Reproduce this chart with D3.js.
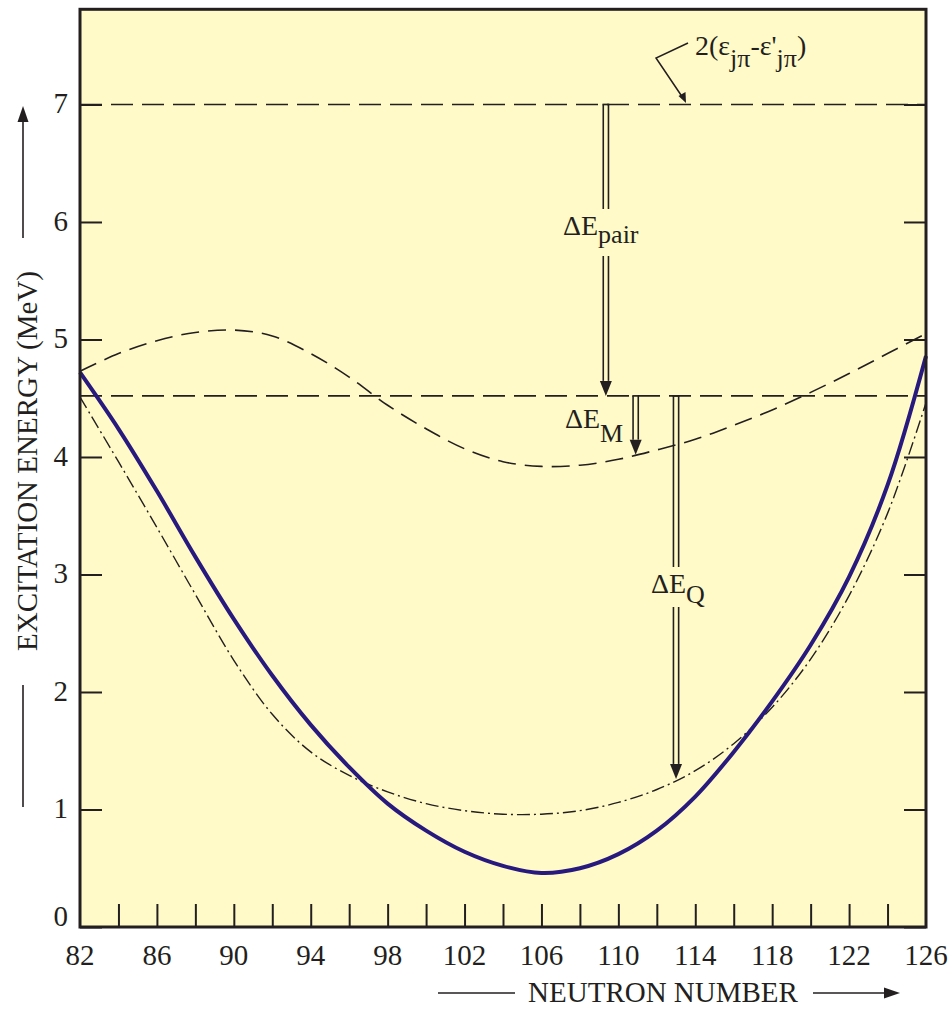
<!DOCTYPE html>
<html><head><meta charset="utf-8">
<script src="https://cdn.jsdelivr.net/npm/d3@7"></script>
<style>
body{margin:0;background:#fff}
svg{display:block}
</style>
</head><body>
<svg id="chart" width="952" height="1009"></svg>
<script>
// ---- data ----
const neutronN   = [82,84,86,88,90,92,94,96,98,100,102,104,106,108,110,112,114,116,118,120,122,124,126];
const solidE     = [4.72,4.24,3.71,3.15,2.62,2.14,1.72,1.36,1.05,0.82,0.64,0.52,0.46,0.50,0.62,0.82,1.11,1.49,1.92,2.40,2.98,3.76,4.86];
const dashDotE   = [4.51,3.96,3.40,2.83,2.27,1.81,1.49,1.29,1.15,1.05,0.99,0.96,0.96,0.99,1.06,1.17,1.33,1.56,1.87,2.28,2.82,3.52,4.46];
const dashedE    = [4.73,4.88,4.99,5.06,5.08,5.03,4.88,4.68,4.44,4.24,4.07,3.96,3.92,3.93,3.98,4.06,4.15,4.27,4.40,4.55,4.71,4.88,5.05];
const levelPair  = 7.0;    // 2(eps - eps')
const levelGap   = 4.52;
const xTickVals  = [84,86,88,90,92,94,96,98,100,102,104,106,108,110,112,114,116,118,120,122,124];
const xLabelVals = [82,86,90,94,98,102,106,110,114,118,122,126];
const yTickVals  = [0,1,2,3,4,5,6,7];
// arrows: [N position, top energy, tip energy]
const arrowPairN = [109.35, 7.0, 4.52];
const arrowMN    = [110.9, 4.52, 4.02];
const arrowQN    = [113.0, 4.52, 1.26];

// ---- scales ----
const FONT = "'Liberation Serif', 'Times New Roman', Times, 'DejaVu Serif', serif";
const svg = d3.select("#chart").attr("font-family", FONT).style("font-family", FONT);
const x = d3.scaleLinear().domain([82,126]).range([80,926]);
const y = d3.scaleLinear().domain([0,7.81]).range([927,9.3]);
const ink = "#231f20";

// background
svg.append("rect").attr("x",80).attr("y",9.3).attr("width",846).attr("height",917.7)
  .attr("fill","#fffac8");

// axes (inward ticks)
const gB = svg.append("g").attr("transform","translate(0,927)")
  .call(d3.axisBottom(x).tickValues(xTickVals).tickSizeInner(-23).tickSizeOuter(0).tickFormat(""));
const gL = svg.append("g").attr("transform","translate(80,0)")
  .call(d3.axisLeft(y).tickValues(yTickVals).tickSizeInner(-22).tickSizeOuter(0).tickFormat(""));
const gR = svg.append("g").attr("transform","translate(926,0)")
  .call(d3.axisRight(y).tickValues(yTickVals).tickSizeInner(-22).tickSizeOuter(0).tickFormat(""));
[gB,gL,gR].forEach(g=>{
  g.select(".domain").remove();
  g.selectAll("line").attr("stroke",ink).attr("stroke-width",2);
  g.selectAll("text").remove();
});

function txt(sel){ return sel.append("text").attr("font-family",FONT).attr("fill",ink); }

// tick labels
const gxl = svg.append("g");
xLabelVals.forEach(d=>{
  txt(gxl).attr("x",x(d)).attr("y",965).attr("text-anchor","middle").attr("font-size",29).text(d);
});
const gyl = svg.append("g");
yTickVals.forEach(d=>{
  txt(gyl).attr("x",68).attr("y",y(d)+(d===0?-1:9)).attr("text-anchor","end").attr("font-size",29).text(d);
});

// horizontal dashed levels
svg.append("line").attr("x1",x(82)).attr("x2",x(126)).attr("y1",y(levelPair)).attr("y2",y(levelPair))
  .attr("stroke",ink).attr("stroke-width",1.7).attr("stroke-dasharray","22,9");
svg.append("line").attr("x1",x(82)).attr("x2",x(126)).attr("y1",y(levelGap)).attr("y2",y(levelGap))
  .attr("stroke",ink).attr("stroke-width",1.7).attr("stroke-dasharray","22,9");

// curves
const line = d3.line().x(d=>x(d[0])).y(d=>y(d[1])).curve(d3.curveCatmullRom.alpha(0.5));
svg.append("path").datum(neutronN.map((n,i)=>[n,dashedE[i]])).attr("d",line)
  .attr("fill","none").attr("stroke",ink).attr("stroke-width",1.6).attr("stroke-dasharray","18,9");
svg.append("path").datum(neutronN.map((n,i)=>[n,dashDotE[i]])).attr("d",line)
  .attr("fill","none").attr("stroke",ink).attr("stroke-width",1.4).attr("stroke-dasharray","13,4,2,4");
svg.append("path").datum(neutronN.map((n,i)=>[n,solidE[i]])).attr("d",line)
  .attr("fill","none").attr("stroke","#27197d").attr("stroke-width",4);

// double arrows
function doubleArrow(spec, gapTop, gapBot){
  const cx = x(spec[0]), y0 = y(spec[1]), y1 = y(spec[2]);
  const headH = 16, headW = 12, base = y1 - headH + 1;
  const segs = gapTop==null ? [[y0,base]] : [[y0,gapTop],[gapBot,base]];
  const g = svg.append("g");
  segs.forEach(s=>{
    [-2.6,2.6].forEach(o=>{
      g.append("line").attr("x1",cx+o).attr("x2",cx+o).attr("y1",s[0]).attr("y2",s[1])
        .attr("stroke",ink).attr("stroke-width",1.6);
    });
  });
  g.append("line").attr("x1",cx-3.4).attr("x2",cx+3.4).attr("y1",y0).attr("y2",y0)
    .attr("stroke",ink).attr("stroke-width",1.7);
  g.append("path").attr("d",`M${cx-headW/2},${base}L${cx+headW/2},${base}L${cx},${y1}Z`).attr("fill",ink);
}
doubleArrow(arrowPairN, 209, 256);
doubleArrow(arrowMN, null, null);
doubleArrow(arrowQN, 567, 607);

// arrow labels
function subLabel(xp, yp, main, sub, shift){
  const t = txt(svg).attr("x",xp).attr("y",yp).attr("font-size",28);
  t.append("tspan").text(main);
  t.append("tspan").attr("dy",shift).attr("font-size",26).text(sub);
}
subLabel(563, 235, "ΔE", "pair", 8);
subLabel(565, 428, "ΔE", "M", 14);
subLabel(651, 593, "ΔE", "Q", 10);

// 2(eps_jpi - eps'_jpi) label
const tEps = txt(svg).attr("x",695).attr("y",55).attr("font-size",28);
tEps.append("tspan").text("2(ε");
tEps.append("tspan").attr("dy",12).attr("font-size",26).text("jπ");
tEps.append("tspan").attr("dy",-12).text("-ε'");
tEps.append("tspan").attr("dy",12).attr("font-size",26).text("jπ");
tEps.append("tspan").attr("dy",-12).text(")");
svg.append("path").attr("d","M688,43L656,58L683,98").attr("fill","none").attr("stroke",ink).attr("stroke-width",1.5);
svg.append("path").attr("d","M686,103L678.5,96L685.5,92Z").attr("fill",ink);

// frame
svg.append("rect").attr("x",80).attr("y",9.3).attr("width",846).attr("height",917.7)
  .attr("fill","none").attr("stroke",ink).attr("stroke-width",3);

// axis titles
txt(svg).attr("transform","translate(37,461) rotate(-90)").attr("text-anchor","middle")
  .attr("font-size",29).text("EXCITATION ENERGY (MeV)");
txt(svg).attr("x",663).attr("y",1002).attr("text-anchor","middle")
  .attr("font-size",29).text("NEUTRON NUMBER");

// axis direction arrows
svg.append("line").attr("x1",23).attr("x2",23).attr("y1",685).attr("y2",807).attr("stroke",ink).attr("stroke-width",1.6);
svg.append("line").attr("x1",23).attr("x2",23).attr("y1",238).attr("y2",118).attr("stroke",ink).attr("stroke-width",1.6);
svg.append("path").attr("d","M23,106L17.5,122L28.5,122Z").attr("fill",ink);
svg.append("line").attr("x1",438).attr("x2",515).attr("y1",993).attr("y2",993).attr("stroke",ink).attr("stroke-width",1.6);
svg.append("line").attr("x1",813).attr("x2",888).attr("y1",993).attr("y2",993).attr("stroke",ink).attr("stroke-width",1.6);
svg.append("path").attr("d","M900,993L884,987.5L884,998.5Z").attr("fill",ink);
</script>
</body></html>
